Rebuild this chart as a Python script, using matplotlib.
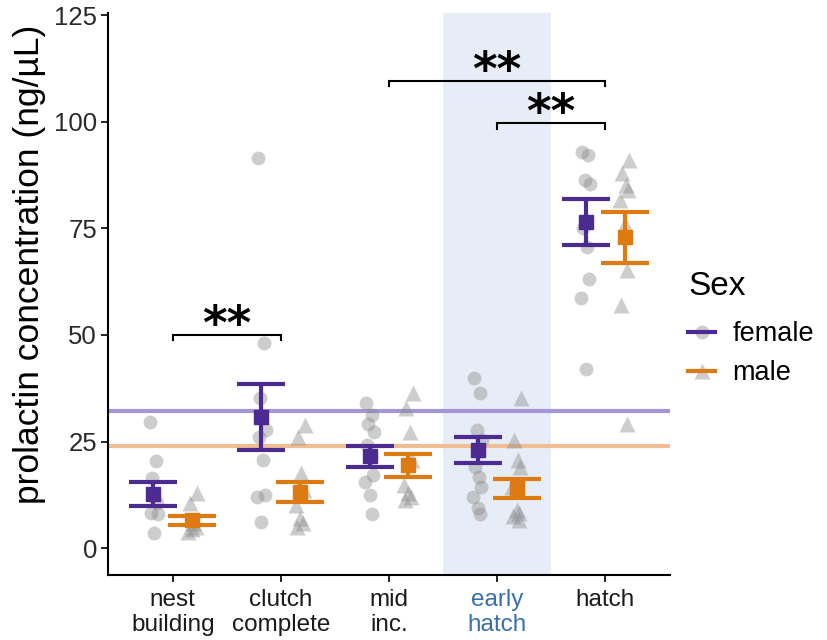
import matplotlib
matplotlib.use("Agg")
import matplotlib.pyplot as plt
from matplotlib.lines import Line2D
from matplotlib.legend_handler import HandlerTuple

plt.rcParams['font.family'] = ['Liberation Sans', 'DejaVu Sans']

# ---------------- data ----------------
stages = ["nest\nbuilding", "clutch\ncomplete", "mid\ninc.", "early\nhatch", "hatch"]

female_points = [
    [29.6, 20.4, 16.5, 8.1, 8.3, 3.6, 10.5],
    [91.4, 48.0, 35.1, 27.7, 26.1, 20.6, 12.4, 12.0, 6.2],
    [34.1, 31.2, 29.2, 27.3, 24.2, 21.4, 17.1, 15.5, 12.4, 8.1],
    [39.8, 36.3, 27.7, 25.3, 19.1, 16.7, 14.4, 12.0, 9.5, 8.1],
    [92.9, 92.2, 86.3, 85.5, 75.0, 70.7, 63.2, 58.6, 42.1],
]
male_points = [
    [12.9, 10.5, 6.0, 5.0, 3.8, 4.5],
    [28.8, 26.1, 17.6, 13.6, 10.0, 7.0, 5.9, 5.0],
    [36.3, 32.8, 27.3, 20.6, 14.8, 12.9, 12.0, 11.3],
    [35.1, 25.3, 20.6, 19.1, 14.4, 9.0, 8.2, 7.5, 6.6],
    [91.0, 87.9, 85.1, 84.0, 81.6, 76.1, 65.2, 57.0, 29.2],
]
female_mean = [12.6, 30.8, 21.5, 23.0, 76.5]
female_se = [2.8, 7.7, 2.5, 3.1, 5.45]
male_mean = [6.5, 13.2, 19.4, 14.0, 72.9]
male_se = [1.15, 2.35, 2.65, 2.3, 6.0]
female_ref = 32.1
male_ref = 23.9

# significance brackets: (start stage idx, end stage idx, height, label)
brackets = [(1, 2, 50.0, "**"), (3, 5, 109.5, "**"), (4, 5, 99.6, "**")]

# ---------------- style ----------------
PURPLE = "#4b2a91"
ORANGE = "#dd7a12"
PURPLE_L = "#a497d4"
ORANGE_L = "#f1bd93"
GRAY = "#8a8a8a"
jit = [-0.035, 0.025, -0.01, 0.04, -0.025, 0.01, 0.03, -0.04, 0.0, 0.02]

fig = plt.figure(figsize=(8.27, 6.40), dpi=100)
ax = fig.add_axes([108 / 827, 65 / 640, (670 - 108) / 827, (627 - 65) / 640])
ax.set_xlim(0.4, 5.6)
ax.set_ylim(-6.3, 125.5)

ax.axvspan(3.5, 4.5, color="#e7edf6", zorder=0, lw=0)

ax.axhline(female_ref, color=PURPLE_L, lw=3, zorder=1)
ax.axhline(male_ref, color=ORANGE_L, lw=3, zorder=1)

dodge = 0.18
for i in range(len(stages)):
    x = i + 1
    fp = female_points[i]
    ax.plot([x - dodge + jit[k % len(jit)] for k in range(len(fp))], fp, 'o',
            color=GRAY, alpha=0.42, ms=10, mec='none', zorder=2)
    mp = male_points[i]
    ax.plot([x + dodge + jit[(k + 3) % len(jit)] for k in range(len(mp))], mp, '^',
            color=GRAY, alpha=0.42, ms=11.5, mec='none', zorder=2)

fx = [i + 1 - dodge for i in range(len(stages))]
mx = [i + 1 + dodge for i in range(len(stages))]
ax.errorbar(fx, female_mean, yerr=female_se, fmt='s', color=PURPLE, ms=10.5,
            elinewidth=3, capsize=17.5, capthick=3, zorder=4)
ax.errorbar(mx, male_mean, yerr=male_se, fmt='s', color=ORANGE, ms=10.5,
            elinewidth=3, capsize=17.5, capthick=3, zorder=4)

for a, b, h, lab in brackets:
    ax.plot([a, a, b, b], [h - 1.2, h, h, h - 1.2], color="black", lw=1.5,
            zorder=5, solid_joinstyle='miter')
    ax.text((a + b) / 2, h - 3.2, lab, ha='center', va='bottom',
            fontsize=34, fontweight='bold', family='DejaVu Sans')

ax.set_xticks(range(1, len(stages) + 1))
ax.set_xticklabels(stages, fontsize=17.5, color="#1a1a1a", linespacing=1.2)
ax.get_xticklabels()[3].set_color("#3a6fae")
ax.set_yticks([0, 25, 50, 75, 100, 125])
ax.tick_params(axis='y', labelsize=18.5, labelcolor="#2a2a2a", length=5, width=1.2, pad=3)
ax.tick_params(axis='x', length=5, width=1.2, pad=5)
ax.set_ylabel("prolactin concentration (ng/µL)", fontsize=25.5)
ax.yaxis.set_label_coords(-0.11, 0.553)

for s in ["top", "right"]:
    ax.spines[s].set_visible(False)
for s in ["left", "bottom"]:
    ax.spines[s].set_linewidth(1.5)

h_f = (Line2D([], [], marker='o', color=GRAY, alpha=0.42, ls='', ms=10, mec='none'),
       Line2D([], [], color=PURPLE, lw=3))
h_m = (Line2D([], [], marker='^', color=GRAY, alpha=0.42, ls='', ms=11, mec='none'),
       Line2D([], [], color=ORANGE, lw=3))
leg = fig.legend([h_f, h_m], ["female", "male"], title="Sex",
                 handler_map={tuple: HandlerTuple(ndivide=1)},
                 loc='upper left', bbox_to_anchor=(688 / 827, (640 - 271) / 640),
                 frameon=False, fontsize=19.5, title_fontsize=24,
                 handlelength=1.0, labelspacing=0.48, handletextpad=0.65,
                 borderaxespad=0.0, borderpad=0.0)
leg._legend_box.align = "left"
leg._legend_box.sep = 14

fig.savefig("out.png", dpi=100)
